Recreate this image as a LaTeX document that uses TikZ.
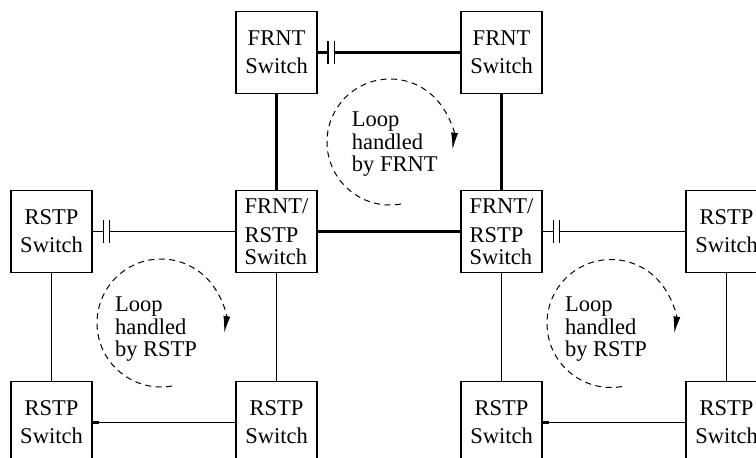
\documentclass[tikz,border=0pt]{standalone}
\usepackage{fontspec}
\setmainfont{Liberation Serif}
\usetikzlibrary{arrows.meta,calc}
\begin{document}
\begin{tikzpicture}[x=1pt,y=1pt,
  sw/.style={draw, line width=1.2pt, minimum width=81pt, minimum height=81.5pt, inner sep=0pt, align=center, font=\fontsize{22.5}{28}\selectfont},
  swl/.style={sw, align=left},
  thinln/.style={line width=1.1pt},
  thickln/.style={line width=3.8pt},
  blk/.style={line width=1.3pt},
  looptxt/.style={inner sep=0pt, align=left, font=\fontsize{22.5}{22.5}\selectfont},
  loopln/.style={line width=1pt, dash pattern=on 6pt off 4.5pt, -{Latex[length=17pt,width=7pt]}}]
\fill[white] (0,0) rectangle (756,458);
\useasboundingbox (0,0) rectangle (756,458);
\clip (0,0) rectangle (756,458);
% switches
\node[sw] (f1) at (276.5,405.5) {FRNT\\Switch};
\node[sw] (f2) at (501.5,405.5) {FRNT\\Switch};
\node[swl] (m1) at (276.5,226.5) {FRNT/\\[1pt]RSTP\\[-6pt]Switch};
\node[swl] (m2) at (501.5,226.5) {FRNT/\\[1pt]RSTP\\[-6pt]Switch};
\node[sw] (r1) at (51.5,226.5) {RSTP\\Switch};
\node[sw] (r2) at (726.5,226.5) {RSTP\\Switch};
\node[sw] (r3) at (51.5,35.5) {RSTP\\Switch};
\node[sw] (r4) at (276.5,35.5) {RSTP\\Switch};
\node[sw] (r5) at (501.5,35.5) {RSTP\\Switch};
\node[sw] (r6) at (726.5,35.5) {RSTP\\Switch};
% top FRNT link with blocked port
\coordinate (ta) at ($(f1.east)+(10.5,0)$);
\coordinate (tb) at ($(f1.east)+(17,0)$);
\draw[thickln] (f1.east) -- (ta);
\draw[thickln] (tb) -- (f2.west);
\draw[blk] ($(ta)+(0,11.5)$) -- ($(ta)+(0,-11.5)$);
\draw[blk] ($(tb)+(0,11.5)$) -- ($(tb)+(0,-11.5)$);
% FRNT ring
\draw[thickln] (f1.south) -- (m1.north);
\draw[thickln] (f2.south) -- (m2.north);
\draw[thickln] (m1.east) -- (m2.west);
% left RSTP link with blocked port
\coordinate (la) at ($(r1.east)+(11,0)$);
\coordinate (lb) at ($(r1.east)+(17,0)$);
\draw[thinln] (r1.east) -- (la);
\draw[thinln] (lb) -- (m1.west);
\draw[blk] ($(la)+(0,11.5)$) -- ($(la)+(0,-11.5)$);
\draw[blk] ($(lb)+(0,11.5)$) -- ($(lb)+(0,-11.5)$);
% right RSTP link with blocked port
\coordinate (ra) at ($(m2.east)+(11,0)$);
\coordinate (rb) at ($(m2.east)+(17,0)$);
\draw[thinln] (m2.east) -- (ra);
\draw[thinln] (rb) -- (r2.west);
\draw[blk] ($(ra)+(0,11.5)$) -- ($(ra)+(0,-11.5)$);
\draw[blk] ($(rb)+(0,11.5)$) -- ($(rb)+(0,-11.5)$);
% verticals
\draw[thinln] (r1.south) -- (r3.north);
\draw[thinln] (m1.south) -- (r4.north);
\draw[thinln] (m2.south) -- (r5.north);
\draw[thinln] (r2.south) -- (r6.north);
% bottom links
\draw[thinln] (r3.east) -- (r4.west);
\draw[thickln] (r3.east) -- ++(6,0);
\draw[thinln] (r5.east) -- (r6.west);
\draw[thickln] (r5.east) -- ++(6,0);
% loops
\coordinate (c1) at (390,316);
\coordinate (c2) at (161,135);
\coordinate (c3) at (611,134.5);
\draw[loopln] ($(c1)+(-80:63)$) arc[start angle=-80, end angle=-367, radius=63];
\draw[loopln] ($(c2)+(-80:64)$) arc[start angle=-80, end angle=-369, radius=64];
\draw[loopln] ($(c3)+(-80:64)$) arc[start angle=-80, end angle=-369, radius=64];
\node[looptxt] (t1) at (394.8,313.5) {Loop\\handled\\by FRNT};
\node[looptxt] (t2) at (156,128.5) {Loop\\handled\\by RSTP};
\node[looptxt] (t3) at (606,128.5) {Loop\\handled\\by RSTP};
\end{tikzpicture}
\end{document}
